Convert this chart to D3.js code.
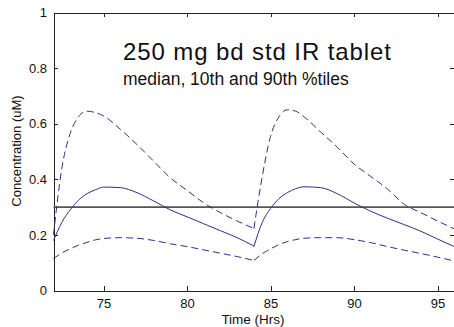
<!DOCTYPE html>
<html lang='en'>
  <head>
    <style type='text/css'>
      body {margin: 0; background-color: #fff;}
      svg {display: block;}
      text {font-family: "Liberation Sans", Arial, sans-serif; fill: #111;}
      .axis path, .axis line {stroke: #222; stroke-width: 1; shape-rendering: crispEdges;}
      .axis text {font-size: 13px; fill: #111;}
    </style>
  </head>
  <body>

    <div id='chart'>
      <svg width='454' height='327'></svg>
    </div>

    <script src='https://d3js.org/d3.v7.min.js'></script>
    <script type='text/javascript'>
        // Hours after start, one array per dosing interval (bd = every 12 h)
        var dose1Hours = [72, 72.5, 73, 73.5, 74, 74.5, 75, 76, 77, 78, 79, 80, 81, 82, 83, 84];
        var dose2Hours = [84, 84.5, 85, 85.5, 86, 86.5, 87, 88, 89, 90, 91, 92, 93, 94, 95, 96];

        // 90th percentile concentration (uM)
        var p90Dose1 = [0.20, 0.44, 0.565, 0.625, 0.645, 0.64, 0.628, 0.58, 0.525, 0.465, 0.405, 0.36, 0.315, 0.28, 0.25, 0.223];
        var p90Dose2 = [0.223, 0.41, 0.555, 0.625, 0.65, 0.645, 0.625, 0.57, 0.515, 0.455, 0.41, 0.365, 0.31, 0.28, 0.25, 0.222];

        // median
        var medianDose1 = [0.18, 0.245, 0.29, 0.325, 0.348, 0.362, 0.372, 0.37, 0.352, 0.322, 0.29, 0.265, 0.24, 0.215, 0.19, 0.16];
        var medianDose2 = [0.158, 0.245, 0.295, 0.33, 0.352, 0.366, 0.373, 0.37, 0.348, 0.315, 0.285, 0.26, 0.237, 0.213, 0.185, 0.158];

        // 10th percentile
        var p10Dose1 = [0.115, 0.135, 0.15, 0.163, 0.173, 0.182, 0.187, 0.19, 0.188, 0.18, 0.168, 0.158, 0.146, 0.134, 0.122, 0.108];
        var p10Dose2 = [0.108, 0.132, 0.15, 0.165, 0.176, 0.183, 0.188, 0.19, 0.19, 0.183, 0.172, 0.158, 0.145, 0.133, 0.12, 0.106];

        var threshold = 0.3;
        var xTicks = [75, 80, 85, 90, 95];
        var yTicks = [0, 0.2, 0.4, 0.6, 0.8, 1];

        var svg = d3.select("#chart svg");

        // plot box as in the matlab figure
        var boxLeft = 53.5, boxRight = 454.3, boxTop = 12.5, boxBottom = 290.5;

        var x = d3.scaleLinear().domain([72, 96]).range([boxLeft, boxRight]);
        var y = d3.scaleLinear().domain([0, 1]).range([boxBottom, boxTop]);

        // bottom axis, ticks pointing inwards
        svg.append("g")
            .attr("class", "axis")
            .attr("transform", "translate(0," + boxBottom + ")")
            .call(d3.axisBottom(x).tickValues(xTicks).tickSizeInner(-5).tickSizeOuter(0).tickPadding(8));

        // left axis
        svg.append("g")
            .attr("class", "axis")
            .attr("transform", "translate(" + boxLeft + ",0)")
            .call(d3.axisLeft(y).tickValues(yTicks).tickSizeInner(-4).tickSizeOuter(0).tickPadding(6.5)
              .tickFormat(d3.format("~g")));

        // top and right: box edges with ticks only
        svg.append("g")
            .attr("class", "axis")
            .attr("transform", "translate(0," + boxTop + ")")
            .call(d3.axisTop(x).tickValues(xTicks).tickSizeInner(-4).tickSizeOuter(0).tickFormat(""));

        var rightAxis = svg.append("g")
            .attr("class", "axis")
            .attr("transform", "translate(" + boxRight + ",0)")
            .call(d3.axisRight(y).tickValues(yTicks).tickSizeInner(-4).tickSizeOuter(0).tickFormat(""));
        rightAxis.select(".domain").remove();

        // threshold line
        svg.append("line")
            .attr("x1", x(72)).attr("x2", x(96))
            .attr("y1", y(threshold)).attr("y2", y(threshold))
            .attr("stroke", "#555")
            .attr("stroke-width", 1.6);

        var line = d3.line()
            .x(function(d) { return x(d[0]); })
            .y(function(d) { return y(d[1]); })
            .curve(d3.curveMonotoneX);

        var series = [
          {hours: dose1Hours, values: p90Dose1, dash: "7,4"},
          {hours: dose2Hours, values: p90Dose2, dash: "7,4"},
          {hours: dose1Hours, values: medianDose1, dash: null},
          {hours: dose2Hours, values: medianDose2, dash: null},
          {hours: dose1Hours, values: p10Dose1, dash: "7,4"},
          {hours: dose2Hours, values: p10Dose2, dash: "7,4"}
        ];

        svg.selectAll(".curve")
          .data(series)
          .enter().append("path")
            .attr("class", "curve")
            .attr("fill", "none")
            .attr("stroke", "#2f2f8c")
            .attr("stroke-width", 1)
            .attr("stroke-dasharray", function(d) { return d.dash; })
            .attr("d", function(d) { return line(d3.zip(d.hours, d.values)); });

        // titles inside the axes
        svg.append("text")
            .attr("x", 123).attr("y", 60)
            .style("font-size", "24px")
            .style("letter-spacing", "0.9px")
            .text("250 mg bd std IR tablet");

        svg.append("text")
            .attr("x", 123).attr("y", 85)
            .style("font-size", "17.5px")
            .text("median, 10th and 90th %tiles");

        // axis labels
        svg.append("text")
            .attr("transform", "translate(20.5,151) rotate(-90)")
            .attr("text-anchor", "middle")
            .style("font-size", "13px")
            .text("Concentration (uM)");

        svg.append("text")
            .attr("x", 253).attr("y", 324)
            .attr("text-anchor", "middle")
            .style("font-size", "13.5px")
            .text("Time (Hrs)");
    </script>
  </body>
</html>
